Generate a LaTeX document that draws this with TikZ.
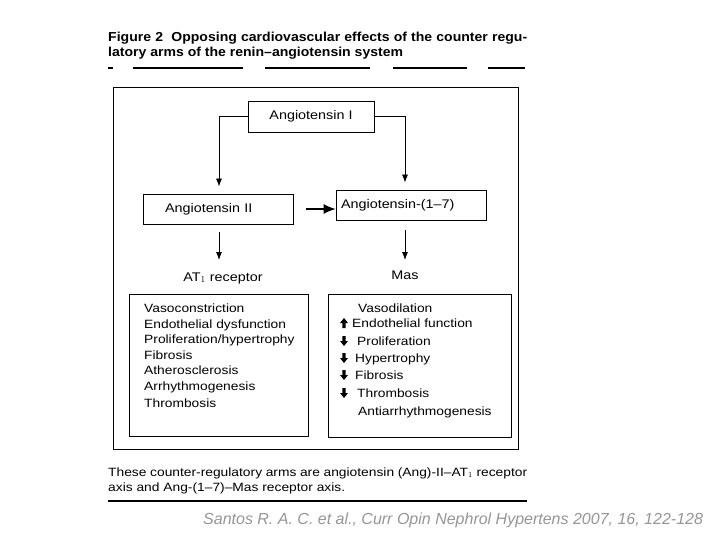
\documentclass[tikz,border=0pt]{standalone}
\usepackage{fontspec}
\setmainfont{Liberation Sans}
\newfontfamily\sA{Liberation Sans}[FakeStretch=1.15, Ligatures=TeX]
\newfontfamily\tB{Liberation Sans}[FakeStretch=1.08, Ligatures=TeX]
\usetikzlibrary{arrows.meta}
\definecolor{citegray}{RGB}{150,150,150}
\begin{document}
\begin{tikzpicture}[x=1pt,y=-1pt,
  box/.style={draw, line width=0.8pt, inner sep=0pt},
  lbl/.style={font=\sA\fontsize{12.5}{15}\selectfont},
  item/.style={font=\sA\fontsize{12}{14}\selectfont, anchor=base west, inner sep=0pt},
  arr/.style={-{Latex[length=8pt,width=6pt]}, line width=0.8pt},
  bigarr/.style={-{Latex[length=12pt,width=10pt]}, line width=1.2pt},
  rulel/.style={line width=1.4pt},
  uparr/.pic={\fill (0,-5)--(4,0)--(1.6,0)--(1.6,5)--(-1.6,5)--(-1.6,0)--(-4,0)--cycle;},
  dnarr/.pic={\fill (0,5)--(4,0)--(1.6,0)--(1.6,-5)--(-1.6,-5)--(-1.6,0)--(-4,0)--cycle;}
]
\useasboundingbox (0,0) rectangle (720,540);
\fill[white] (0,0) rectangle (720,540);

% title
\node[anchor=base west, inner sep=0pt, font=\tB\bfseries\fontsize{13}{15}\selectfont] (t1) at (108,42)
  {\makebox[419pt][s]{Figure 2\ \ Opposing cardiovascular effects of the counter regu-}};
\node[anchor=base west, inner sep=0pt, font=\tB\bfseries\fontsize{13}{15}\selectfont] (t2) at (108,57)
  {latory arms of the renin--angiotensin system};
\foreach \a/\b in {108/113,133/243,265/370,393/467,488/525}
  \draw[rulel] (\a,68) -- (\b,68);

% outer frame
\node[box, minimum width=405pt, minimum height=362pt] (outer) at (315.5,268) {};

% main boxes
\node[box, lbl, minimum width=126pt, minimum height=31pt] (a1) at (311,116.5) {Angiotensin I};
\node[box, lbl, minimum height=30pt, text width=106pt, inner xsep=22pt, align=left] (a2) at (218,209) {Angiotensin II};
\node[box, lbl, minimum height=30pt, text width=140pt, inner xsep=5pt, align=left] (a17) at (411,205) {Angiotensin-(1--7)};

% connectors
\draw[arr, shorten >=7pt] (a1.west) -| ([xshift=1pt]a2.north);
\draw[arr, shorten >=7pt] (a1.east) -| ([xshift=-6pt]a17.north);
\draw[bigarr, shorten <=13pt] (a2.east) -- (a2.east -| a17.west);

% receptors
\node[lbl, inner sep=0pt] (at1) at (223,278) {AT$_1$ receptor};
\node[lbl, inner sep=0pt] (mas) at (405,275) {Mas};
\coordinate (at1top) at (219,260);
\coordinate (mastop) at (405,260);
\draw[arr, shorten <=8pt] (a2.south -| at1top) -- (at1top);
\draw[arr, shorten <=10pt] (a17.south -| mastop) -- (mastop);

% effect boxes
\node[box, minimum width=179pt, minimum height=142pt] (effL) at (218.5,365) {};
\node[box, minimum width=183pt, minimum height=143pt] (effR) at (419.5,365.5) {};

\node[item] (l1) at (144,312.5) {Vasoconstriction};
\node[item] (l2) at (144,328.5) {Endothelial dysfunction};
\node[item] (l3) at (144,343.5) {Proliferation/hypertrophy};
\node[item] (l4) at (144,359.5) {Fibrosis};
\node[item] (l5) at (144,374.5) {Atherosclerosis};
\node[item] (l6) at (144,390.5) {Arrhythmogenesis};
\node[item] (l7) at (144,407.5) {Thrombosis};

\node[item] (r1) at (358,312.5) {Vasodilation};
\node[item] (r2) at (352,327.5) {Endothelial function};
\node[item] (r3) at (357,345.5) {Proliferation};
\node[item] (r4) at (355,362.5) {Hypertrophy};
\node[item] (r5) at (355,379.5) {Fibrosis};
\node[item] (r6) at (357,397.5) {Thrombosis};
\node[item] (r7) at (358,415.5) {Antiarrhythmogenesis};
\pic at (344,323) {uparr};
\pic at (344,341) {dnarr};
\pic at (344,358) {dnarr};
\pic at (344,375) {dnarr};
\pic at (344,393) {dnarr};

% caption
\node[anchor=base west, inner sep=0pt, font=\sA\fontsize{12}{15}\selectfont] (c1) at (108,476)
  {\makebox[419pt][s]{These counter-regulatory arms are angiotensin (Ang)-II--AT$_1$ receptor}};
\node[anchor=base west, inner sep=0pt, font=\sA\fontsize{12}{15}\selectfont] (c2) at (108,491)
  {axis and Ang-(1--7)--Mas receptor axis.};
\draw[line width=1.8pt] (108,501) -- (527,501);

% citation
\node[anchor=base west, inner sep=0pt, text=citegray, font=\itshape\fontsize{16}{19}\selectfont] (cite) at (203,524)
  {Santos R. A. C. et al., Curr Opin Nephrol Hypertens 2007, 16, 122-128};
\end{tikzpicture}
\end{document}
